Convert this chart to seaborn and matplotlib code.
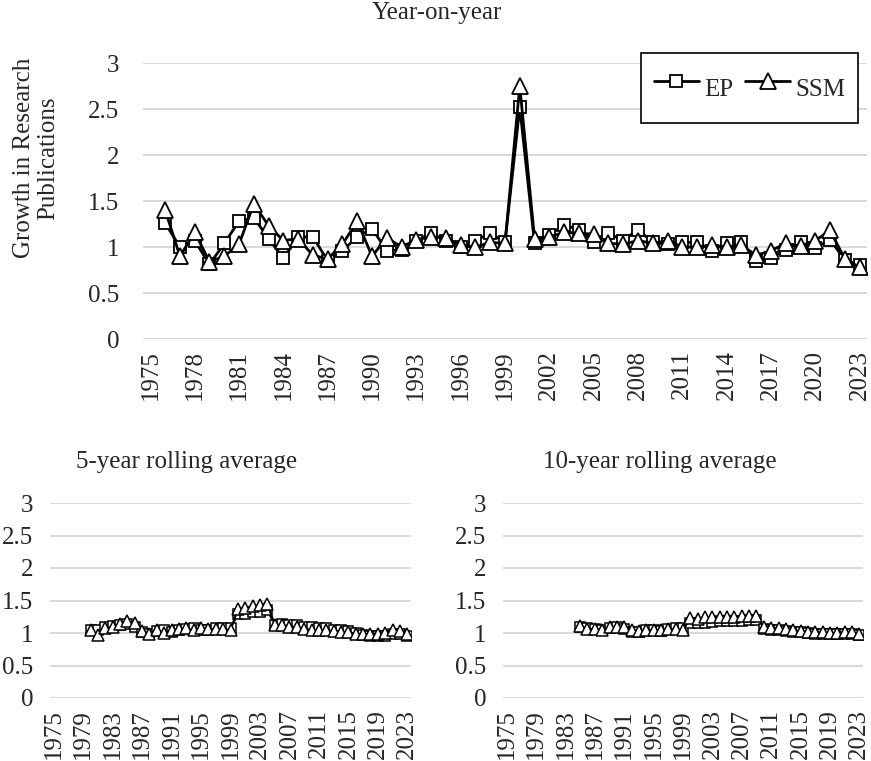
import pandas as pd
import seaborn as sns
import matplotlib.pyplot as plt

# year-on-year growth, 1976-2023
years = list(range(1976, 2024))
ep_yoy = [1.26, 1.00, 1.07, 0.81, 1.04, 1.28, 1.32, 1.09, 0.88, 1.11,
          1.11, 0.85, 0.96, 1.11, 1.20, 0.96, 0.97, 1.07, 1.15, 1.07,
          1.00, 1.07, 1.15, 1.05, 2.52, 1.04, 1.13, 1.24, 1.19, 1.05,
          1.15, 1.07, 1.19, 1.05, 1.03, 1.05, 1.05, 0.96, 1.04, 1.05,
          0.85, 0.88, 0.97, 1.05, 0.99, 1.08, 0.86, 0.80]
ssm_yoy = [1.40, 0.90, 1.16, 0.84, 0.90, 1.03, 1.47, 1.23, 1.07, 1.09,
           0.91, 0.87, 1.03, 1.28, 0.90, 1.10, 1.00, 1.08, 1.11, 1.10,
           1.02, 1.00, 1.05, 1.04, 2.75, 1.09, 1.11, 1.16, 1.15, 1.14,
           1.04, 1.03, 1.07, 1.04, 1.07, 1.00, 1.00, 1.02, 1.00, 1.02,
           0.91, 0.96, 1.04, 1.01, 1.07, 1.18, 0.87, 0.78]

# 5-year rolling average, 1980-2023
years_5 = list(range(1980, 2024))
ep_5yr = [1.04, 1.04, 1.10, 1.11, 1.12, 1.14, 1.10, 1.01, 0.98, 1.03,
          1.05, 1.02, 1.04, 1.06, 1.07, 1.04, 1.05, 1.07, 1.08, 1.07,
          1.29, 1.30, 1.32, 1.33, 1.35, 1.13, 1.14, 1.13, 1.12, 1.10,
          1.09, 1.08, 1.07, 1.05, 1.04, 1.03, 1.00, 0.97, 0.96, 0.96,
          0.95, 0.98, 0.98, 0.96]
ssm_5yr = [1.04, 0.97, 1.08, 1.09, 1.14, 1.18, 1.15, 1.03, 0.99, 1.04,
           1.00, 1.04, 1.06, 1.07, 1.04, 1.08, 1.06, 1.06, 1.06, 1.04,
           1.37, 1.39, 1.41, 1.43, 1.45, 1.13, 1.12, 1.10, 1.09, 1.06,
           1.05, 1.04, 1.04, 1.03, 1.02, 1.01, 0.99, 0.98, 0.99, 0.99,
           1.00, 1.05, 1.03, 0.98]

# 10-year rolling average, 1985-2023
years_10 = list(range(1985, 2024))
ep_10yr = [1.09, 1.07, 1.06, 1.05, 1.08, 1.09, 1.06, 1.02, 1.02, 1.05,
           1.05, 1.03, 1.06, 1.08, 1.07, 1.15, 1.16, 1.16, 1.17, 1.18,
           1.18, 1.19, 1.19, 1.20, 1.20, 1.06, 1.05, 1.04, 1.03, 1.02,
           1.01, 1.00, 0.99, 0.99, 0.98, 0.98, 0.99, 0.98, 0.97]
ssm_10yr = [1.11, 1.06, 1.06, 1.04, 1.09, 1.09, 1.10, 1.05, 1.03, 1.04,
            1.04, 1.05, 1.06, 1.06, 1.04, 1.23, 1.22, 1.24, 1.24, 1.25,
            1.25, 1.25, 1.26, 1.26, 1.26, 1.09, 1.08, 1.07, 1.06, 1.04,
            1.03, 1.02, 1.01, 1.01, 1.00, 1.00, 1.02, 1.01, 0.98]

y_ticks = [0, 0.5, 1, 1.5, 2, 2.5, 3]
y_labels = ['0', '0.5', '1', '1.5', '2', '2.5', '3']

sns.set_style("white")
plt.rcParams['font.family'] = ['Liberation Serif', 'DejaVu Serif']
FS = 18

W, H = 871, 761
fig = plt.figure(figsize=(W / 100, H / 100), dpi=100)
ax_top = fig.add_axes([143 / W, 1 - 339 / H, 724 / W, 276 / H])
ax_l = fig.add_axes([50 / W, 1 - 698 / H, 361 / W, 195 / H])
ax_r = fig.add_axes([503 / W, 1 - 698 / H, 360 / W, 195 / H])


def draw(ax, x, ep, ssm, lw, sq, tri, mew, step, ypad):
    df = pd.DataFrame({'year': x, 'EP': ep, 'SSM': ssm})
    sns.lineplot(data=df, x='year', y='EP', ax=ax, color='black', lw=lw,
                 marker='s', ms=sq, mfc='white', mec='black', mew=mew, label='EP')
    sns.lineplot(data=df, x='year', y='SSM', ax=ax, color='black', lw=lw,
                 marker='^', ms=tri, mfc='white', mec='black', mew=mew, label='SSM')
    if ax.get_legend() is not None:
        ax.get_legend().remove()
    ax.set_xlim(1974.5, 2023.5)
    ax.set_ylim(0, 3)
    ax.set_yticks(y_ticks)
    ax.set_yticklabels(y_labels, fontsize=FS)
    xt = list(range(1975, 2024, step))
    ax.set_xticks(xt)
    ax.set_xticklabels([str(v) for v in xt], rotation=90, fontsize=FS)
    ax.set_xlabel('')
    ax.set_ylabel('')
    ax.yaxis.grid(True, color='#d9d9d9', lw=1.4)
    ax.xaxis.grid(False)
    ax.set_axisbelow(True)
    for s in ax.spines.values():
        s.set_visible(False)
    ax.tick_params(axis='both', length=0)
    ax.tick_params(axis='y', pad=ypad)
    ax.tick_params(axis='x', pad=8)


draw(ax_top, years, ep_yoy, ssm_yoy, 2.0, 9, 12, 1.3, 3, 17)
draw(ax_l, years_5, ep_5yr, ssm_5yr, 1.5, 6.5, 8, 1.1, 4, 12)
draw(ax_r, years_10, ep_10yr, ssm_10yr, 1.5, 6.5, 8, 1.1, 4, 12)

handles, labels = ax_top.get_legend_handles_labels()
leg = fig.legend(handles, labels, loc='upper right',
                 bbox_to_anchor=(858 / W, 1 - 53 / H), ncol=2, fontsize=FS,
                 frameon=True, fancybox=False, edgecolor='black', framealpha=1,
                 borderpad=0.5, borderaxespad=0, handleheight=2.4,
                 handlelength=1.8, handletextpad=0.2, columnspacing=0.5)
leg.get_frame().set_linewidth(1.2)

fig.text(437 / W, 1 - 13 / H, 'Year-on-year', ha='center', va='center', fontsize=FS)
fig.text(36 / W, 1 - 158 / H, 'Growth in Research\nPublications', ha='center',
         va='center', rotation=90, fontsize=FS, linespacing=1.15)
fig.text(187 / W, 1 - 462 / H, '5-year rolling average', ha='center', va='center', fontsize=FS)
fig.text(660 / W, 1 - 462 / H, '10-year rolling average', ha='center', va='center', fontsize=FS)

fig.savefig('out.png', dpi=100)
